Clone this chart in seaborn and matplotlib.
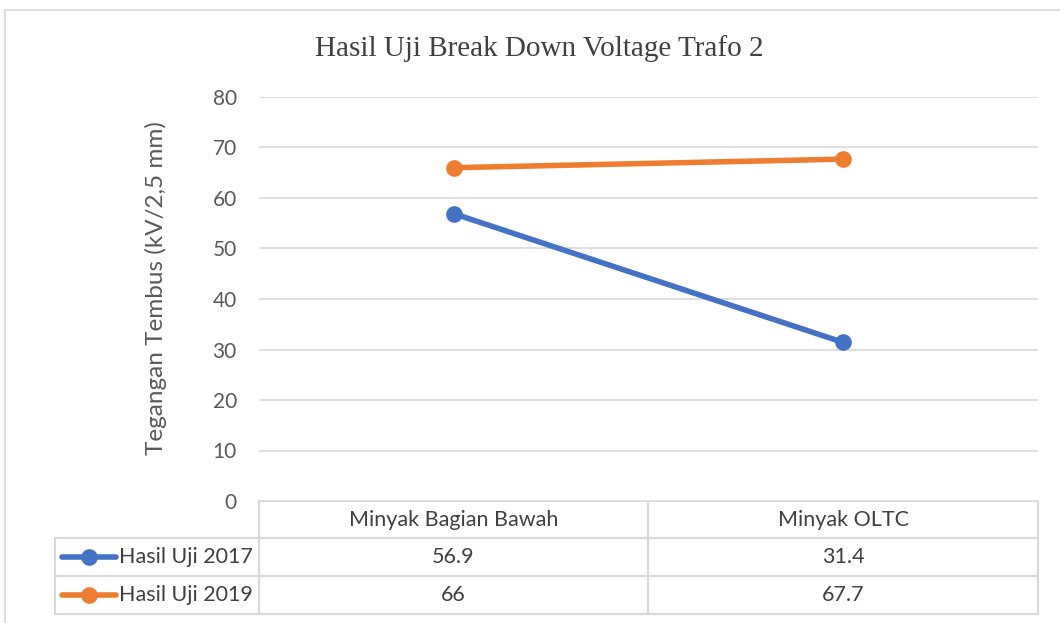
import matplotlib
matplotlib.use("Agg")
import matplotlib.pyplot as plt
import seaborn as sns
import pandas as pd
from matplotlib.lines import Line2D

categories = ["Minyak Bagian Bawah", "Minyak OLTC"]
series_names = ["Hasil Uji 2017", "Hasil Uji 2019"]
values_2017 = [56.9, 31.4]
values_2019 = [66, 67.7]
value_labels_2017 = ["56.9", "31.4"]
value_labels_2019 = ["66", "67.7"]
y_ticks = [0, 10, 20, 30, 40, 50, 60, 70, 80]
title = "Hasil Uji Break Down Voltage Trafo 2"
y_label = "Tegangan Tembus (kV/2,5 mm)"
colors = ["#4472C4", "#ED7D31"]

sns.set_theme(style="white")
plt.rcParams['font.family'] = ['Lato', 'DejaVu Sans']

W, H = 1060, 623
fig = plt.figure(figsize=(W / 100, H / 100), dpi=100)

def fx(px):
    return px / W

def fy(py):
    return 1 - py / H

# plot area
left, right, top, bottom = 259, 1038, 97, 501
ax = fig.add_axes([fx(left), fy(bottom), fx(right) - fx(left), fy(top) - fy(bottom)])

rows = []
for name, vals in zip(series_names, [values_2017, values_2019]):
    for i, v in enumerate(vals):
        rows.append({"pos": i, "value": v, "series": name})
df = pd.DataFrame(rows)

sns.lineplot(data=df, x="pos", y="value", hue="series", palette=colors,
             marker="o", markersize=12, markeredgewidth=0, linewidth=4,
             ax=ax, legend=False)

ax.set_xlim(-0.5, len(categories) - 0.5)
ax.set_ylim(0, 80)
ax.set_yticks(y_ticks)
ax.set_yticklabels([str(t) for t in y_ticks], fontsize=15, color="#595959")
ax.set_xticks([])
ax.set_xlabel("")
ax.set_ylabel("")
ax.tick_params(axis="y", length=0, pad=16)
ax.yaxis.grid(True, color="#D9D9D9", linewidth=1.2)
ax.set_axisbelow(True)
for s in ax.spines.values():
    s.set_visible(False)

# overlay axes in pixel coordinates
ov = fig.add_axes([0, 0, 1, 1], zorder=-1)
ov.set_xlim(0, W)
ov.set_ylim(H, 0)
ov.axis("off")
ov.patch.set_alpha(0)

# chart border
bc = "#D9D9D9"
ov.plot([5, W], [10, 10], color=bc, lw=1.2)
ov.plot([5, 5], [10, H], color=bc, lw=1.2)

ov.text(539, 49, title, ha="center", va="center", fontsize=21,
        family=["Liberation Serif"], color="#404040")
ov.text(156, 288, y_label, ha="center", va="center", rotation=90,
        fontsize=17.5, color="#595959")

# data table
gc = "#D9D9D9"
tbl_left, col1, col2 = 55, 259, 648
r0, r1, r2, r3 = 501, 538, 576, 614
ov.plot([col1, right], [r0, r0], color=gc, lw=1.5)
for yy in (r1, r2, r3):
    ov.plot([tbl_left, right], [yy, yy], color=gc, lw=1.5)
for xx in (col1, col2, right):
    ov.plot([xx, xx], [r0, r3], color=gc, lw=1.5)
ov.plot([tbl_left, tbl_left], [r1, r3], color=gc, lw=1.5)

col_centers = [(col1 + col2) / 2, (col2 + right) / 2]
tc = "#404040"
fs = 15.5
for cx, cat in zip(col_centers, categories):
    ov.text(cx, (r0 + r1) / 2, cat, ha="center", va="center", fontsize=fs, color=tc)
row_centers = [(r1 + r2) / 2, (r2 + r3) / 2]
for ry, labels, name, col in zip(row_centers, [value_labels_2017, value_labels_2019],
                                 series_names, colors):
    for cx, lab in zip(col_centers, labels):
        ov.text(cx, ry, lab, ha="center", va="center", fontsize=fs, color=tc)
    ov.add_line(Line2D([62, 116], [ry, ry], color=col, lw=4, solid_capstyle="round"))
    ov.plot([89], [ry], marker="o", markersize=12, color=col, markeredgewidth=0)
    ov.text(119, ry, name, ha="left", va="center", fontsize=fs, color=tc)

fig.savefig("out.png", dpi=100, facecolor="white")
